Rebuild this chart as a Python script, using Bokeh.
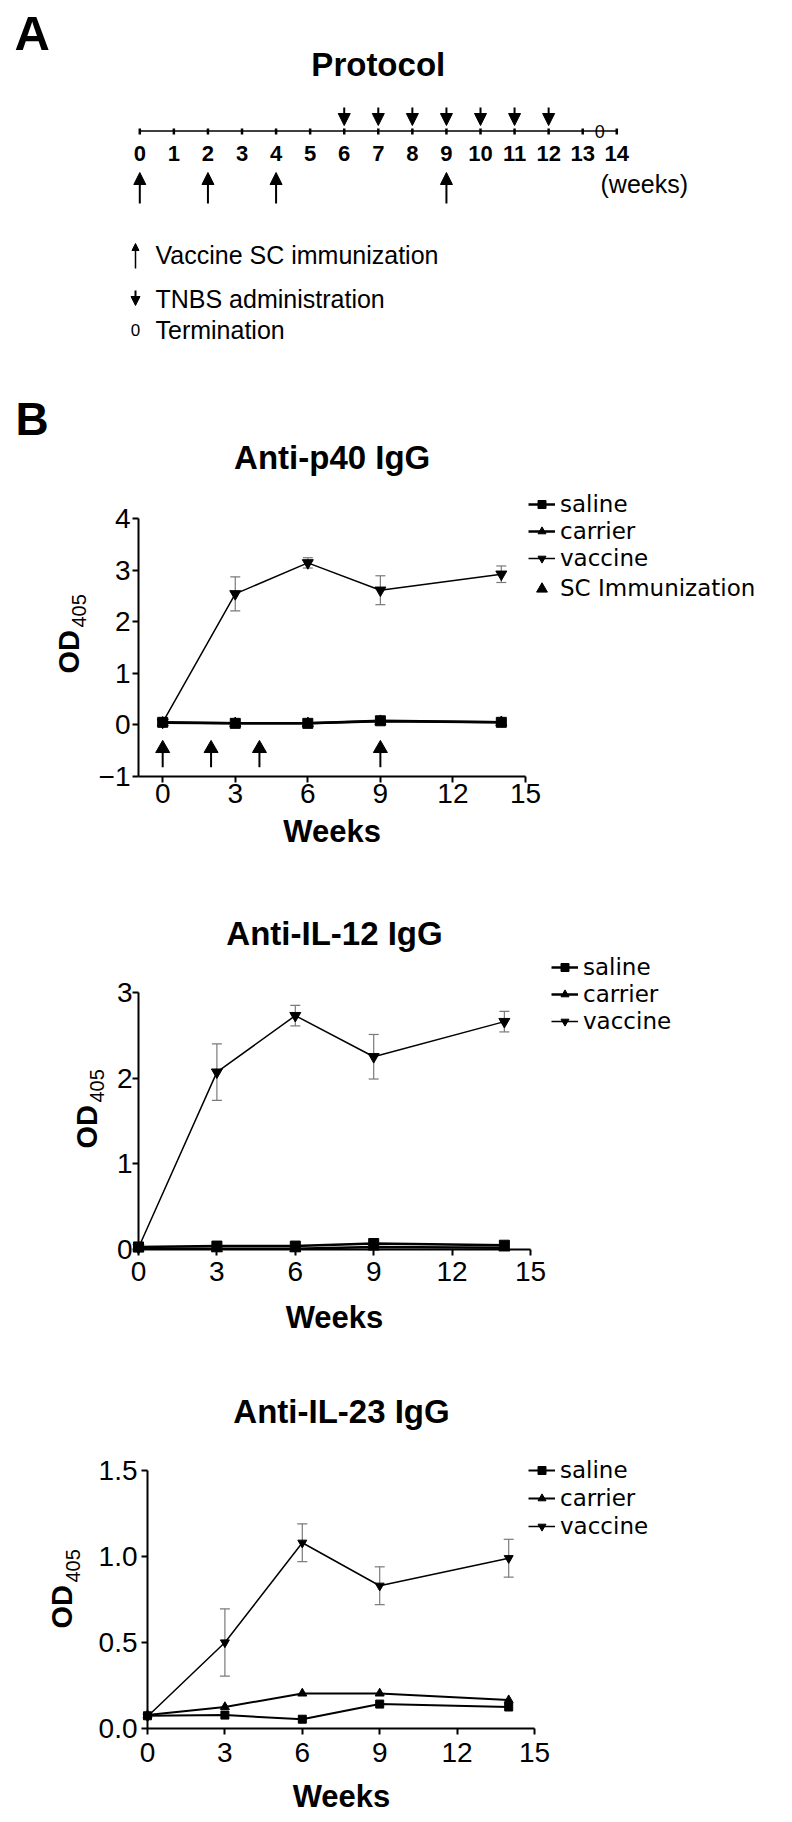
from math import pi
from bokeh.plotting import figure
from bokeh.models import (Range1d, Label, Arrow, NormalHead, ColumnDataSource, Whisker, TeeHead,
                          Legend, LegendItem, FixedTicker, NumeralTickFormatter)
from bokeh.layouts import column
from bokeh.embed import file_html
from bokeh.resources import INLINE
from bokeh.core.properties import value

# ---------------- data ----------------
timeline_weeks = list(range(0, 15))
immunization_weeks = [0, 2, 4, 9]
tnbs_weeks = [6, 7, 8, 9, 10, 11, 12]
termination_week = 13.5

sample_weeks = [0, 3, 6, 9, 14]

p40_saline = [0.05, 0.03, 0.03, 0.08, 0.05]
p40_carrier = [0.04, 0.03, 0.03, 0.07, 0.05]
p40_vaccine = [0.05, 2.54, 3.14, 2.61, 2.92]
p40_vaccine_err = [0.0, 0.33, 0.10, 0.28, 0.16]

il12_saline = [0.03, 0.04, 0.04, 0.07, 0.05]
il12_carrier = [0.01, 0.01, 0.01, 0.03, 0.02]
il12_vaccine = [0.02, 2.07, 2.73, 2.25, 2.66]
il12_vaccine_err = [0.0, 0.33, 0.12, 0.26, 0.12]

il23_saline = [0.074, 0.078, 0.054, 0.142, 0.125]
il23_carrier = [0.078, 0.125, 0.204, 0.204, 0.165]
il23_vaccine = [0.07, 0.50, 1.08, 0.83, 0.99]
il23_vaccine_err = [0.0, 0.195, 0.11, 0.11, 0.11]

x_ticks = [0, 3, 6, 9, 12, 15]
p40_y_ticks = [-1, 0, 1, 2, 3, 4]
il12_y_ticks = [0, 1, 2, 3]
il23_y_ticks = [0.0, 0.5, 1.0, 1.5]

group_labels = ["saline", "carrier", "vaccine"]
arrow_label = "SC Immunization"

# ---------------- styling / layout ----------------
W = 792
FONT = "Liberation Sans"
LEG_FONT = "DejaVu Sans"
MID = 0.35  # distance (in em) from the baseline up to the middle of the text box


def txt(p, x, base_y, t, size, bold=False, align="left"):
    p.text(x=x, y=[b - MID * size for b in base_y], text=t, text_font=value(FONT),
           text_font_size=f"{size}px", text_font_style="bold" if bold else "normal",
           text_align=align, text_baseline="middle", text_color="black")


def arrows(p, xs, y0, y1, head, lw):
    src = ColumnDataSource(dict(x=xs, y0=[y0] * len(xs), y1=[y1] * len(xs)))
    p.add_layout(Arrow(end=NormalHead(size=head, fill_color="black", line_color="black", line_width=1),
                       x_start="x", y_start="y0", x_end="x", y_end="y1", source=src,
                       line_width=lw, line_color="black"))


# ---------------- Panel A: protocol ----------------
A_TOP, A_BOT = 0, 370
PX0, PPW = 139.3, 34.07


def wk(px):
    return (px - PX0) / PPW


pa = figure(width=W, height=A_BOT - A_TOP, x_range=Range1d(wk(0), wk(W)),
            y_range=Range1d(A_BOT, A_TOP), x_axis_type=None, y_axis_type=None,
            toolbar_location=None, output_backend="svg", min_border=0,
            outline_line_color=None)

txt(pa, [wk(14)], [50], ["A"], 49, bold=True)
mid = (timeline_weeks[0] + timeline_weeks[-1]) / 2
txt(pa, [mid], [76], ["Protocol"], 33, bold=True, align="center")
pa.segment(x0=[timeline_weeks[0]], y0=[130.5], x1=[timeline_weeks[-1]], y1=[130.5],
           line_width=1.5, line_color="black")
n = len(timeline_weeks)
pa.segment(x0=timeline_weeks, y0=[128] * n, x1=timeline_weeks, y1=[134] * n,
           line_width=2.5, line_color="black")
txt(pa, timeline_weeks, [160.7] * n, [str(w) for w in timeline_weeks], 22, bold=True, align="center")
arrows(pa, tnbs_weeks, 107, 125, 12, 2)
arrows(pa, immunization_weeks, 203, 172, 12, 2)
txt(pa, [termination_week], [137.5], ["0"], 18, align="center")
txt(pa, [wk(600)], [192], ["(weeks)"], 25)

arrows(pa, [wk(135)], 268, 243, 7, 1.5)
txt(pa, [wk(155)], [263], ["Vaccine SC immunization"], 25)
arrows(pa, [wk(135)], 290, 305, 9, 2)
txt(pa, [wk(155)], [307.5], ["TNBS administration"], 25)
txt(pa, [wk(135)], [335], ["0"], 17, align="center")
txt(pa, [wk(155)], [338], ["Termination"], 25)


# ---------------- Panel B charts ----------------
def chart(top, bottom, xa, ya, xb, yb, yticks, ystand, xstand, yfmt=None):
    """xa/ya: ((data0, page0), (data1, page1)) anchors; xb/yb: axis bounds."""
    (dx0, px0), (dx1, px1) = xa
    (dy0, py0), (dy1, py1) = ya
    sx = (dx1 - dx0) / (px1 - px0)
    sy = (dy1 - dy0) / (py1 - py0)

    def conv(px, py):
        return dx0 + (px - px0) * sx, dy0 + (py - py0) * sy

    xr = (conv(0, 0)[0], conv(W, 0)[0])
    yr = (conv(0, bottom)[1], conv(0, top)[1])
    p = figure(width=W, height=bottom - top, x_range=Range1d(*xr), y_range=Range1d(*yr),
               toolbar_location=None, output_backend="svg", min_border=0,
               outline_line_color=None)
    p.grid.visible = False
    for ax in (p.xaxis[0], p.yaxis[0]):
        ax.axis_line_width = 2
        ax.axis_line_color = "black"
        ax.major_tick_line_width = 2
        ax.major_tick_line_color = "black"
        ax.major_tick_out = 6
        ax.major_tick_in = 0
        ax.minor_tick_out = 0
        ax.minor_tick_in = 0
        ax.major_label_text_font = FONT
        ax.major_label_text_font_size = "28px"
        ax.major_label_text_color = "black"
    p.xaxis.ticker = FixedTicker(ticks=x_ticks)
    p.yaxis.ticker = FixedTicker(ticks=yticks)
    p.xaxis.fixed_location = yb[0]
    p.xaxis.bounds = xb
    p.yaxis.fixed_location = xb[0]
    p.yaxis.bounds = yb
    p.xaxis.major_label_standoff = xstand
    p.yaxis.major_label_standoff = ystand
    if yfmt:
        p.yaxis.formatter = NumeralTickFormatter(format=yfmt)
    return p, conv


def label(p, conv, px, base, t, size, bold=False, align="left", vertical=False):
    if vertical:   # reads bottom-to-top, baseline on the right-hand side
        x, y = conv(base - MID * size, px)
        angle = pi / 2
    else:
        x, y = conv(px, base - MID * size)
        angle = 0.0
    p.add_layout(Label(x=x, y=y, text=t, text_font=FONT, text_font_size=f"{size}px",
                       text_font_style="bold" if bold else "normal", text_align=align,
                       text_baseline="middle", angle=angle, text_color="black"))


def series(p, sal, car, vac, err, msize, tsize, lw):
    rs_l = p.line(sample_weeks, sal, line_width=lw, line_color="black")
    rc_l = p.line(sample_weeks, car, line_width=lw, line_color="black")
    rv_l = p.line(sample_weeks, vac, line_width=1.5, line_color="black")
    idx = [i for i, e in enumerate(err) if e > 0]
    src = ColumnDataSource(dict(x=[sample_weeks[i] for i in idx],
                                lo=[vac[i] - err[i] for i in idx],
                                hi=[vac[i] + err[i] for i in idx]))
    p.add_layout(Whisker(source=src, base="x", lower="lo", upper="hi", dimension="height",
                         line_color="#7a7a7a", line_width=1.2, level="underlay",
                         lower_head=TeeHead(size=10, line_color="#7a7a7a", line_width=1.2),
                         upper_head=TeeHead(size=10, line_color="#7a7a7a", line_width=1.2)))
    rc_m = p.scatter(sample_weeks, car, marker="triangle", size=tsize, color="black")
    rs_m = p.scatter(sample_weeks, sal, marker="square", size=msize, color="black")
    rv_m = p.scatter(sample_weeks, vac, marker="inverted_triangle", size=tsize, color="black")
    return [LegendItem(label=group_labels[0], renderers=[rs_l, rs_m]),
            LegendItem(label=group_labels[1], renderers=[rc_l, rc_m]),
            LegendItem(label=group_labels[2], renderers=[rv_l, rv_m])]


LEG_SIZE = 23
TEXT_H = 1.164 * LEG_SIZE   # height of the legend text box


def legend_rows(p, items, left_px, centers, bottom_page, glyph_h=20):
    # one single-row legend per entry, so that rows can sit as tightly as in the original
    row_h = max(TEXT_H, glyph_h)
    for item, c in zip(items, centers):
        p.add_layout(Legend(items=[item], location=(left_px, bottom_page - (c + row_h / 2)),
                            label_text_font=LEG_FONT, label_text_font_size=f"{LEG_SIZE}px",
                            label_text_color="black",
                            glyph_width=27, glyph_height=glyph_h, label_height=20,
                            label_standoff=5, spacing=0, padding=0, margin=0,
                            border_line_alpha=0, background_fill_alpha=0))


# chart 1: anti-p40
T1, B1 = 370, 880
p1, c1 = chart(T1, B1, ((-1, 138), (15, 525)), ((4, 518), (-1, 776)), (-1, 15), (-1, 4),
               p40_y_ticks, 2, 1)
items1 = series(p1, p40_saline, p40_carrier, p40_vaccine, p40_vaccine_err, 10, 11, 2.5)
ni = len(immunization_weeks)
p1.segment(x0=immunization_weeks, y0=[-0.82] * ni, x1=immunization_weeks, y1=[-0.45] * ni,
           line_width=2, line_color="black")
head_r = p1.scatter(immunization_weeks, [-0.457] * ni, marker="triangle", size=14, color="black")
legend_rows(p1, items1, 528, [504, 531, 558], B1)
legend_rows(p1, [LegendItem(label=arrow_label, renderers=[head_r])], 528, [588], B1, glyph_h=27)
label(p1, c1, 15, 435, "B", 46, bold=True)
label(p1, c1, 331.7, 469, "Anti-p40 IgG", 33, bold=True, align="center")
label(p1, c1, 331.7, 842, "Weeks", 31, bold=True, align="center")
label(p1, c1, 673, 78.3, "OD", 29, bold=True, vertical=True)
label(p1, c1, 627, 85, "405", 20, vertical=True)

# chart 2: anti-IL-12
T2, B2 = 880, 1350
p2, c2 = chart(T2, B2, ((0, 138), (15, 530)), ((3, 992), (0, 1249)), (0, 15), (0, 3),
               il12_y_ticks, 0, 6)
items2 = series(p2, il12_saline, il12_carrier, il12_vaccine, il12_vaccine_err, 10, 11, 2.5)
legend_rows(p2, items2, 551, [967, 994, 1021], B2)
label(p2, c2, 334, 945, "Anti-IL-12 IgG", 33, bold=True, align="center")
label(p2, c2, 334, 1328, "Weeks", 31, bold=True, align="center")
label(p2, c2, 1148, 97, "OD", 29, bold=True, vertical=True)
label(p2, c2, 1102, 103.5, "405", 20, vertical=True)

# chart 3: anti-IL-23
T3, B3 = 1350, 1820
p3, c3 = chart(T3, B3, ((0, 147), (15, 534)), ((1.5, 1470), (0, 1728)), (0, 15), (0, 1.5),
               il23_y_ticks, 4, 8, "0.0")
items3 = series(p3, il23_saline, il23_carrier, il23_vaccine, il23_vaccine_err, 8, 9, 2)
legend_rows(p3, items3, 528, [1470, 1498, 1526], B3)
label(p3, c3, 341, 1423, "Anti-IL-23 IgG", 33, bold=True, align="center")
label(p3, c3, 341, 1806.5, "Weeks", 31, bold=True, align="center")
label(p3, c3, 1628, 72, "OD", 29, bold=True, vertical=True)
label(p3, c3, 1582, 79, "405", 20, vertical=True)

layout = column(pa, p1, p2, p3)
open("out.html", "w").write(file_html(layout, INLINE))
